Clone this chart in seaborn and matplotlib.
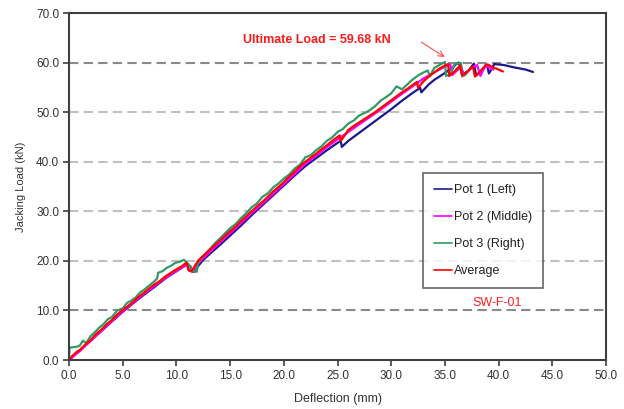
import matplotlib
matplotlib.use('Agg')
import matplotlib.pyplot as plt
import pandas as pd
import seaborn as sns

# Pot 1 (Left)
pot1_x = [0, 0.5, 1.0, 1.5, 2.0, 3.0, 4.0, 5.0, 6.0, 7.0, 8.0, 9.0, 10.0, 10.5, 11.0, 11.3, 11.5, 11.8,
          12.0, 12.5, 13.0, 14.0, 15.0, 16.0, 17.0, 18.0, 19.0, 20.0, 21.0, 22.0, 23.0, 24.0, 25.0, 25.3,
          25.4, 26.0, 27.0, 28.0, 29.0, 30.0, 31.0, 32.0, 32.7, 32.8, 33.5, 34.0, 35.0, 35.6, 36.0, 36.3,
          36.6, 37.2, 37.7, 37.9, 38.5, 38.9, 39.1, 39.6, 40.5, 41.5, 42.5, 43.2]
pot1_y = [0, 1.0, 1.9, 3.0, 3.9, 5.8, 7.8, 9.7, 11.5, 13.2, 14.8, 16.5, 17.9, 18.6, 19.3, 18.9, 17.8, 17.9,
          18.9, 20.2, 21.2, 23.1, 25.1, 27.1, 29.2, 31.2, 33.2, 35.2, 37.2, 39.1, 40.7, 42.3, 43.8, 44.2,
          43.0, 44.2, 45.8, 47.4, 49.0, 50.6, 52.3, 53.9, 54.9, 54.0, 55.6, 56.5, 57.9, 58.8, 59.6, 60.0,
          57.5, 58.4, 59.8, 57.4, 58.6, 59.6, 57.8, 59.7, 59.5, 59.0, 58.6, 58.1]

# Pot 2 (Middle)
pot2_x = [0, 0.5, 1.0, 2.0, 3.0, 4.0, 5.0, 6.0, 7.0, 8.0, 9.0, 10.0, 10.6, 11.0, 11.2, 11.5, 11.8, 12.2,
          13.0, 14.0, 15.0, 16.0, 17.0, 18.0, 19.0, 20.0, 21.0, 22.0, 23.0, 24.0, 25.0, 26.0, 27.0, 28.0,
          29.0, 30.0, 31.0, 32.0, 33.0, 34.0, 35.0, 35.5, 35.7, 36.5, 36.8, 37.5, 38.0, 38.3, 38.8, 39.2, 39.5]
pot2_y = [0, 0.9, 1.8, 3.8, 5.9, 7.9, 9.8, 11.6, 13.4, 15.0, 16.6, 18.0, 18.8, 19.2, 18.0, 17.8, 18.8, 19.9,
          21.6, 23.6, 25.6, 27.6, 29.6, 31.5, 33.5, 35.5, 37.5, 39.6, 41.2, 42.9, 44.5, 46.0, 47.5, 49.0,
          50.5, 52.1, 53.7, 55.2, 56.8, 58.0, 59.2, 59.6, 57.5, 59.2, 57.4, 59.0, 59.5, 57.3, 59.5, 58.8, 58.6]

# Pot 3 (Right)
pot3_x = [0, 0.05, 0.4, 0.8, 1.0, 1.3, 1.6, 2.0, 2.4, 2.8, 3.2, 3.6, 4.0, 4.5, 5.0, 5.4, 5.8, 6.2, 6.6,
          7.0, 7.4, 7.8, 8.2, 8.3, 8.7, 9.1, 9.5, 9.9, 10.3, 10.7, 11.1, 11.5, 11.9, 12.0, 12.4, 12.8, 13.2,
          13.6, 14.0, 14.5, 15.0, 15.5, 16.0, 16.5, 17.0, 17.5, 18.0, 18.5, 19.0, 19.5, 20.0, 20.5, 21.0,
          21.5, 22.0, 22.5, 23.0, 23.5, 24.0, 24.5, 25.0, 25.5, 26.0, 26.5, 27.0, 27.5, 28.0, 28.5, 29.0,
          29.5, 30.0, 30.5, 31.0, 31.5, 32.0, 32.5, 33.0, 33.4, 33.6, 34.0, 34.4, 34.8, 35.0, 35.1, 35.5,
          35.9, 36.2, 36.5, 36.6, 37.0]
pot3_y = [0, 2.5, 2.6, 2.7, 2.9, 3.9, 3.4, 4.8, 5.6, 6.5, 7.2, 8.2, 8.7, 10.0, 10.4, 11.5, 12.0, 12.6, 13.6,
          14.2, 14.9, 15.6, 16.4, 17.6, 17.9, 18.6, 19.0, 19.6, 19.8, 20.2, 19.4, 18.0, 17.8, 19.6, 20.8,
          21.7, 22.6, 23.6, 24.4, 25.5, 26.6, 27.4, 28.6, 29.6, 30.8, 31.6, 32.9, 33.6, 34.8, 35.6, 36.6,
          37.4, 38.6, 39.4, 40.9, 41.3, 42.3, 43.1, 44.2, 44.9, 46.0, 46.6, 47.7, 48.3, 49.3, 49.8, 50.4,
          51.2, 52.3, 53.0, 53.8, 55.2, 54.6, 55.6, 56.6, 57.4, 58.0, 58.4, 57.2, 58.9, 59.4, 59.9, 60.1,
          57.3, 57.6, 59.7, 59.8, 59.9, 57.2, 57.8]

# Average
avg_x = [0, 0.3, 0.7, 1.0, 1.5, 2.0, 2.5, 3.0, 3.5, 4.0, 4.5, 5.0, 5.5, 6.0, 6.5, 7.0, 7.5, 8.0, 8.5, 9.0,
         9.5, 10.0, 10.5, 10.9, 11.0, 11.1, 11.4, 11.7, 12.0, 12.5, 13.0, 13.5, 14.0, 14.5, 15.0, 15.5,
         16.0, 16.5, 17.0, 17.5, 18.0, 18.5, 19.0, 19.5, 20.0, 20.5, 21.0, 21.5, 22.0, 22.5, 23.0, 23.5,
         24.0, 24.5, 25.0, 25.2, 25.3, 25.7, 26.0, 26.5, 27.0, 27.5, 28.0, 28.5, 29.0, 29.5, 30.0, 30.5,
         31.0, 31.5, 32.0, 32.4, 32.5, 33.0, 33.5, 34.0, 34.5, 35.0, 35.3, 35.4, 35.8, 36.4, 36.6, 37.0,
         37.6, 37.8, 38.2, 38.8, 39.0, 39.5, 40.0, 40.4]
avg_y = [0, 0.8, 1.6, 2.0, 3.1, 4.0, 5.2, 6.1, 7.2, 8.1, 9.2, 10.1, 10.9, 11.8, 12.8, 13.6, 14.5, 15.3, 16.0,
         16.9, 17.6, 18.3, 18.9, 19.6, 19.4, 18.2, 17.9, 18.9, 20.0, 21.0, 22.0, 23.0, 24.0, 25.0, 26.0,
         26.9, 28.0, 29.0, 30.0, 31.0, 31.9, 32.9, 34.0, 34.9, 35.9, 37.0, 38.0, 39.1, 40.0, 40.8, 41.6,
         42.5, 43.3, 44.2, 45.0, 45.3, 44.2, 45.4, 46.4, 47.2, 47.9, 48.6, 49.3, 50.0, 50.8, 51.6, 52.4,
         53.2, 54.0, 54.7, 55.5, 56.1, 54.9, 56.2, 57.2, 58.0, 58.8, 59.4, 59.7, 57.3, 58.0, 59.4, 57.4,
         58.0, 59.2, 57.2, 58.0, 59.5, 59.6, 59.0, 58.6, 58.2]

series_names = ["Pot 1 (Left)", "Pot 2 (Middle)", "Pot 3 (Right)", "Average"]
series_colors = ["#1a1a8c", "#ff00ff", "#339966", "#ff0000"]

frames = []
for name, xs, ys in zip(series_names,
                        [pot1_x, pot2_x, pot3_x, avg_x],
                        [pot1_y, pot2_y, pot3_y, avg_y]):
    frames.append(pd.DataFrame({"Deflection": xs, "Load": ys, "Series": name}))
df = pd.concat(frames, ignore_index=True)

sns.set_style("white")
plt.rcParams['font.family'] = ['Liberation Sans', 'DejaVu Sans']

fig = plt.figure(figsize=(6.24, 4.09), dpi=100)
ax = fig.add_axes([0.1106, 0.1198, 0.8606, 0.8484])

sns.lineplot(data=df, x="Deflection", y="Load", hue="Series", hue_order=series_names,
             palette=series_colors, sort=False, estimator=None, units="Series",
             linewidth=1.6, ax=ax)

ax.set_xlim(0, 50)
ax.set_ylim(0, 70)
ax.set_xticks(range(0, 51, 5))
ax.set_yticks(range(0, 71, 10))
ax.set_xticklabels([f"{v:.1f}" for v in range(0, 51, 5)])
ax.set_yticklabels([f"{v:.1f}" for v in range(0, 71, 10)])
ax.tick_params(axis='both', direction='out', length=4, width=1.2, color='#404040',
               labelsize=8.5, labelcolor='#333333', bottom=True, left=True, pad=3)

ax.grid(axis='y', linestyle=(0, (4.5, 2.5)), linewidth=1.5)
for gl, val in zip(ax.get_ygridlines(), range(0, 71, 10)):
    if val in (10, 60):
        gl.set_color('#8a8a8a')
    elif val in (0, 70):
        gl.set_visible(False)
    else:
        gl.set_color('#c0c0c0')
ax.set_axisbelow(True)

for side in ['left', 'bottom', 'right', 'top']:
    ax.spines[side].set_visible(True)
    ax.spines[side].set_color('#404040')
    ax.spines[side].set_linewidth(1.5)

ax.set_xlabel("Deflection (mm)", fontsize=9, color='#333333', labelpad=8)
ax.set_ylabel("Jacking Load (kN)", fontsize=8, color='#333333', labelpad=7)

ax.text(23.1, 64.6, "Ultimate Load = 59.68 kN", color='#ff1a1a', fontsize=9,
        fontweight='bold', ha='center', va='center')
ax.annotate("", xy=(35.2, 60.8), xytext=(32.6, 64.4),
            arrowprops=dict(arrowstyle='->', color='#ff5050', lw=0.8))
ax.text(39.9, 11.5, "SW-F-01", color='#ff2020', fontsize=9, ha='center', va='center')

leg = ax.legend(loc='upper left', bbox_to_anchor=(0.659, 0.539), borderaxespad=0,
                fontsize=9, frameon=True, fancybox=False, handlelength=1.4,
                handletextpad=0.15, labelspacing=1.2, borderpad=0.9)
leg.get_frame().set_edgecolor('#404040')
leg.get_frame().set_linewidth(1.2)
for line in leg.get_lines():
    line.set_linewidth(1.2)
for t in leg.get_texts():
    t.set_color('#222222')

fig.savefig("out.png", dpi=100)
